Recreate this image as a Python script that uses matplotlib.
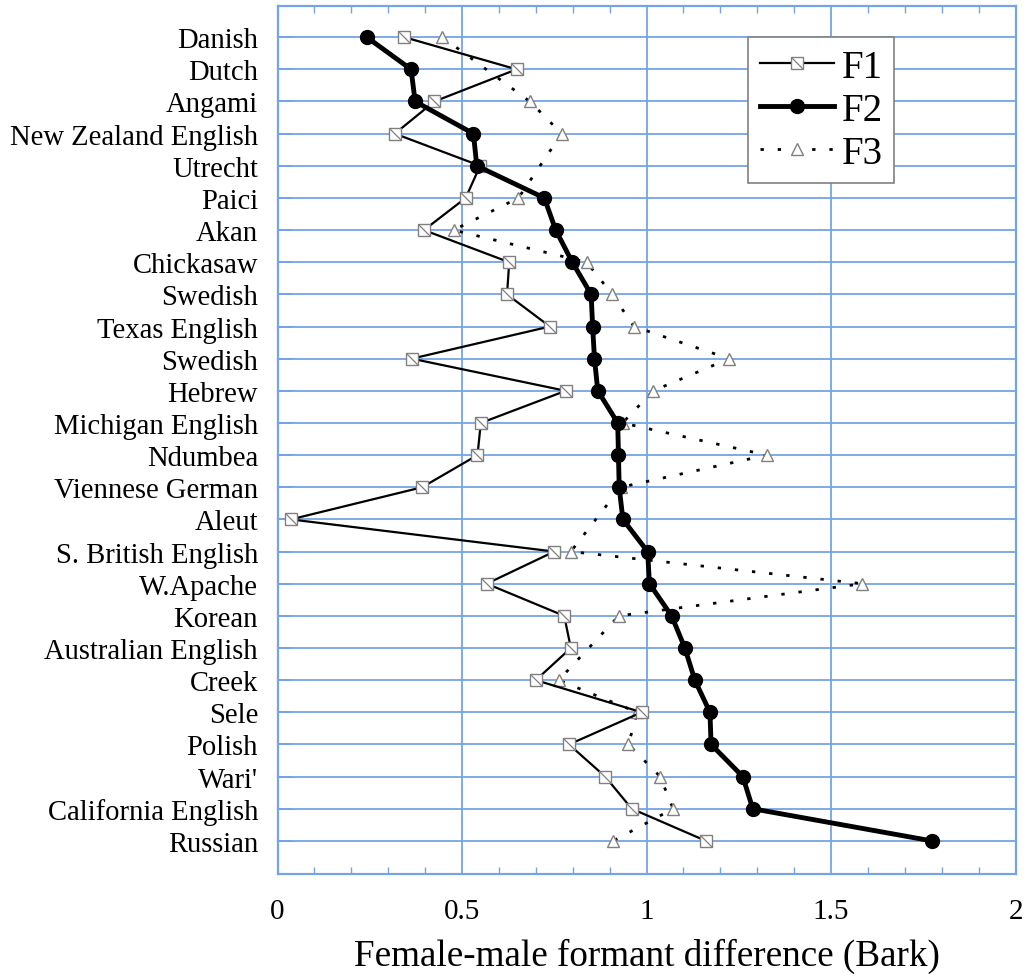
import numpy as np
import matplotlib
matplotlib.use("Agg")
import matplotlib.pyplot as plt
from matplotlib.path import Path
from matplotlib.lines import Line2D
from matplotlib.ticker import MultipleLocator

nan = np.nan
languages = ["Danish", "Dutch", "Angami", "New Zealand English", "Utrecht", "Paici",
             "Akan", "Chickasaw", "Swedish", "Texas English", "Swedish", "Hebrew",
             "Michigan English", "Ndumbea", "Viennese German", "Aleut",
             "S. British English", "W.Apache", "Korean", "Australian English",
             "Creek", "Sele", "Polish", "Wari'", "California English", "Russian"]

F1 = [0.344, 0.648, 0.425, 0.318, 0.549, 0.510, 0.397, 0.628, 0.622, 0.738,
      0.364, 0.781, 0.551, 0.542, 0.392, 0.036, 0.750, 0.567, 0.777, 0.795,
      0.700, 0.987, 0.790, 0.888, 0.960, 1.161]
F2 = [0.242, 0.362, 0.373, 0.531, 0.540, 0.723, 0.754, 0.799, 0.850, 0.854,
      0.859, 0.868, 0.922, 0.924, 0.926, 0.936, 1.003, 1.008, 1.068, 1.104,
      1.131, 1.172, 1.175, 1.261, 1.288, 1.773]
F3 = [0.447, nan, 0.684, 0.770, nan, 0.653, 0.477, 0.838, 0.907, 0.966,
      1.224, 1.018, 0.935, 1.326, 0.930, nan, 0.795, 1.585, 0.925, nan,
      0.762, 0.975, 0.951, 1.037, 1.072, 0.910]

x_ticks = [0, 0.5, 1, 1.5, 2]
x_tick_labels = ["0", "0.5", "1", "1.5", "2"]
x_label = "Female-male formant difference (Bark)"

plt.rcParams['font.family'] = ['Liberation Serif', 'DejaVu Serif']
BLUE = '#74a4e6'
GRAY = '#808080'

fig = plt.figure(figsize=(10.27, 9.79), dpi=100)
ax = fig.add_axes([277.5/1027, 1-875/979, (1015.5-277.5)/1027, (875-6.7)/979])

y = np.arange(len(languages))
f1 = np.array(F1); f2 = np.array(F2); f3 = np.array(F3)
valid3 = ~np.isnan(f3)

diag = Path([(-1, 1), (1, -1)], [Path.MOVETO, Path.LINETO])

# F3 dotted
ax.plot(f3[valid3], y[valid3], color='black', lw=2.0, dashes=(1.2, 5.0),
        marker='^', ms=9, mfc='white', mec=GRAY, mew=1.0, zorder=3)
# F1
ax.plot(f1, y, color='black', lw=1.6, marker='s', ms=8.8, mfc='white',
        mec=GRAY, mew=1.0, zorder=4)
ax.plot(f1, y, ls='none', marker=diag, ms=8.8, mfc='none', mec=GRAY,
        mew=0.9, zorder=4.1)
# F2
ax.plot(f2, y, color='black', lw=3.5, marker='o', ms=10, mfc='black',
        mec='black', zorder=5)

ax.set_xlim(0, 2)
ax.set_ylim(len(languages) + 0.03, -0.98)
ax.set_xticks(x_ticks)
ax.set_xticklabels(x_tick_labels, fontsize=21)
ax.xaxis.set_minor_locator(MultipleLocator(0.1))
ax.set_yticks(y)
ax.set_yticklabels(languages, fontsize=20.6)

ax.grid(True, which='major', color=BLUE, lw=1.3)
ax.set_axisbelow(True)
for s in ax.spines.values():
    s.set_color(BLUE)
    s.set_linewidth(1.6)

ax.tick_params(axis='x', which='both', direction='in', top=True, bottom=True,
               color=BLUE, pad=17)
ax.tick_params(axis='x', which='major', length=0)
ax.tick_params(axis='x', which='minor', length=5, width=1)
ax.tick_params(axis='y', which='major', direction='in', length=10, width=1.3,
               color=BLUE, pad=14)

ax.set_xlabel(x_label, fontsize=26.7, labelpad=10)

h1 = (Line2D([], [], color='black', lw=1.6, marker='s', ms=8.8, mfc='white', mec=GRAY, mew=1.0),
      Line2D([], [], ls='none', marker=diag, ms=8.8, mfc='none', mec=GRAY, mew=0.9))
h2 = Line2D([], [], color='black', lw=3.5, marker='o', ms=10, mfc='black', mec='black')
h3 = Line2D([], [], color='black', lw=2.0, dashes=(1.2, 5.0), marker='^', ms=9,
            mfc='white', mec=GRAY, mew=1.0)
leg = ax.legend([h1, h2, h3], ["F1", "F2", "F3"], loc='upper right',
                bbox_to_anchor=(0.836, 0.9636), borderaxespad=0, fontsize=28,
                handlelength=1.9, handletextpad=0.2, labelspacing=0.15,
                borderpad=0.3, fancybox=False, framealpha=1, edgecolor=GRAY,
                numpoints=1)
leg.get_frame().set_linewidth(1.2)
leg.set_zorder(10)

fig.savefig("out.png", dpi=100)
